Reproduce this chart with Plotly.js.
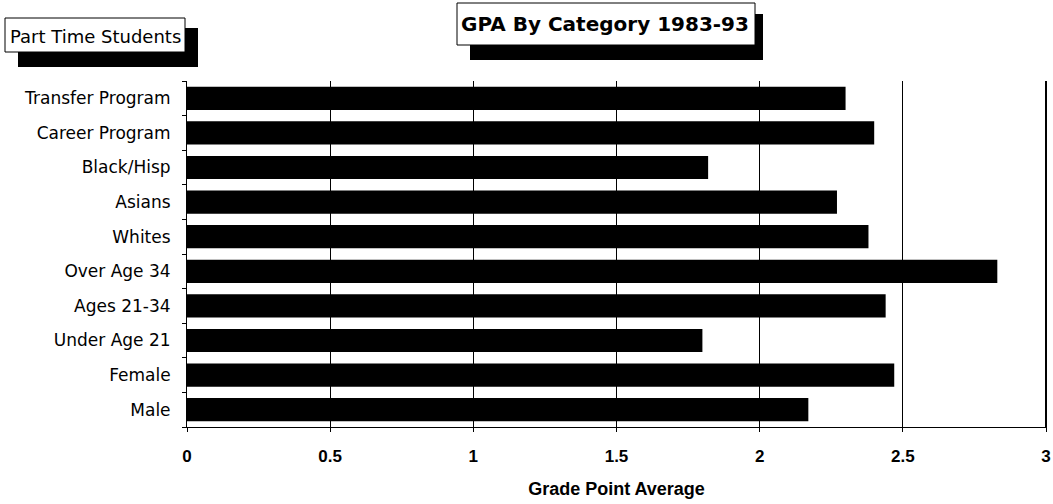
<!DOCTYPE html>
<html>
<head>
<meta charset="utf-8">
<script src="https://cdn.plot.ly/plotly-3.0.1.min.js"></script>
<style>html,body{margin:0;padding:0;background:#fff;overflow:hidden;}#chart{width:1053px;height:504px;}</style>
</head>
<body>
<div id="chart"></div>
<script>
// Categories listed bottom to top (Plotly draws the first category at the bottom)
const categories = ["Male", "Female", "Under Age 21", "Ages 21-34", "Over Age 34", "Whites", "Asians", "Black/Hisp", "Career Program", "Transfer Program"];
const gpaValues = [2.17, 2.47, 1.80, 2.44, 2.83, 2.38, 2.27, 1.82, 2.40, 2.30];
const xTickValues = [0, 0.5, 1, 1.5, 2, 2.5, 3];
const xTickLabels = ["0", "0.5", "1", "1.5", "2", "2.5", "3"];
const xRange = [0, 3];
const chartTitle = "GPA By Category 1983-93";
const subsetLabel = "Part Time Students";
const xTitle = "Grade Point Average";

// plot area in pixels
const W = 1053, H = 504;
const L = 187, R = 1046, T = 81, B = 427;
const px = x => (x - L) / (R - L);
const py = y => (B - y) / (B - T);

function box(x0, y0, x1, y1, fill, lineW) {
  return {type: "rect", xref: "paper", yref: "paper", x0: px(x0), x1: px(x1), y0: py(y1), y1: py(y0),
          fillcolor: fill, line: {color: "#000", width: lineW}, layer: "above"};
}

const font = "'Liberation Sans', Arial, Helvetica, sans-serif";
const wide = "'DejaVu Sans', Verdana, sans-serif";

const data = [{
  type: "bar",
  orientation: "h",
  x: gpaValues,
  y: categories,
  marker: {color: "#000", line: {width: 0}},
  hoverinfo: "none"
}];

const layout = {
  width: W, height: H,
  margin: {l: L, r: W - R, t: T, b: H - B, pad: 0},
  paper_bgcolor: "#fff", plot_bgcolor: "#fff",
  showlegend: false,
  bargap: 0.33,
  font: {family: font, color: "#000"},
  xaxis: {
    range: xRange,
    tickvals: xTickValues, ticktext: xTickLabels,
    showgrid: true, gridcolor: "#000", gridwidth: 1,
    zeroline: false,
    showline: true, linecolor: "#000", linewidth: 1,
    ticks: "outside", ticklen: 4, tickcolor: "#000",
    ticklabelstandoff: 10,
    tickfont: {family: font, size: 17, color: "#000", weight: "bold"},
    title: {text: xTitle, font: {family: font, size: 18, color: "#000", weight: "bold"}, standoff: 16},
    fixedrange: true
  },
  yaxis: {
    type: "category",
    categoryorder: "array", categoryarray: categories,
    showgrid: false, zeroline: false,
    showline: true, mirror: true, linecolor: "#000", linewidth: 1,
    ticks: "outside", tickson: "boundaries", ticklen: 4, tickcolor: "#000",
    ticklabelstandoff: 12,
    tickfont: {family: wide, size: 17, color: "#000"},
    fixedrange: true
  },
  shapes: [
    {type: "line", xref: "paper", yref: "paper", x0: 1, x1: 1, y0: 0, y1: 1,
     line: {color: "#000", width: 2}, layer: "above"},
    box(470, 14, 763, 60, "#000", 0),
    box(457, 3, 755, 45, "#fff", 1),
    box(18, 28, 198, 67, "#000", 0),
    box(5, 18, 185, 52, "#fff", 1)
  ],
  annotations: [
    {text: chartTitle, xref: "paper", yref: "paper", x: px(605), y: py(24), xanchor: "center", yanchor: "middle",
     showarrow: false, font: {family: wide, size: 20, color: "#000", weight: "bold"}},
    {text: subsetLabel, xref: "paper", yref: "paper", x: px(95), y: py(36), xanchor: "center", yanchor: "middle",
     showarrow: false, font: {family: wide, size: 18, color: "#000"}}
  ]
};

Plotly.newPlot("chart", data, layout, {displayModeBar: false, staticPlot: true});
</script>
</body>
</html>
